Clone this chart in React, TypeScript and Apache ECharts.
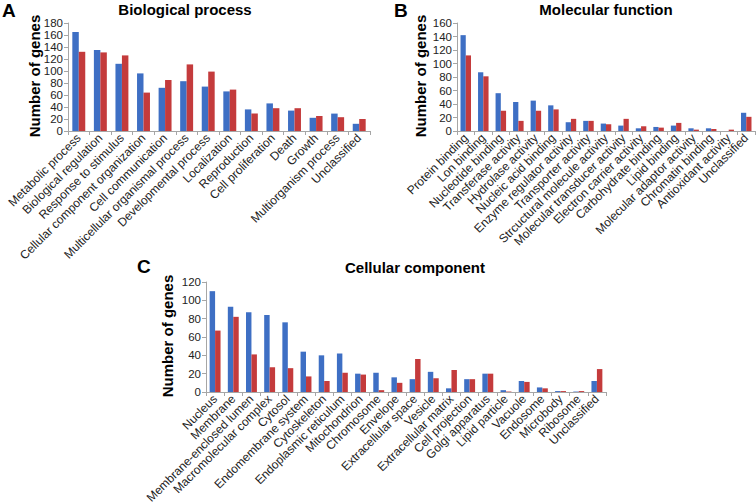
import React, { useEffect, useRef } from "react";
import * as echarts from "echarts";

const bpCategories = ["Metabolic process", "Biological regulation", "Response to stimulus", "Cellular component organization", "Cell communication", "Multicellular organismal process", "Developmental process", "Localization", "Reproduction", "Cell proliferation", "Death", "Growth", "Multiorganism process", "Unclassified"];
const bpBlue = [165, 135, 112, 96, 72, 83, 74, 66, 36, 46, 34, 22, 29, 12];
const bpRed = [132, 131, 126, 64, 85, 111, 99, 69, 29, 38, 38, 25, 23, 20];

const mfCategories = ["Protein binding", "Lon binding", "Nucleotide binding", "Transferase activity", "Hydrolase activity", "Nucleic acid binding", "Enzyme regulator activity", "Transporter activity", "Strcuctural molecule activity", "Molecular transducer activity", "Electron carrier activity", "Carbohydrate binding", "Lipid binding", "Molecular adaptor activity", "Chromatin binding", "Antioxidant activity", "Unclassified"];
const mfBlue = [142, 87, 56, 43, 45, 38, 13, 15, 11, 8, 4, 6, 8, 4, 4, 0, 27];
const mfRed = [112, 81, 30, 15, 30, 32, 18, 15, 10, 18, 7, 5, 12, 2, 3, 2, 21];

const ccCategories = ["Nucleus", "Membrane", "Membrane-enclosed lumen", "Macromolecular complex", "Cytosol", "Endomembrane system", "Cytoskeleton", "Endoplasmic reticulum", "Mitochondrion", "Chromosome", "Envelope", "Extracellular space", "Vesicle", "Extracellular matrix", "Cell projection", "Golgi apparatus", "Lipid particle", "Vacuole", "Endosome", "Microbody", "Ribosome", "Unclassified"];
const ccBlue = [110, 93, 87, 84, 76, 44, 40, 42, 20, 21, 16, 14, 22, 4, 14, 20, 2, 12, 5, 1, 0.5, 12];
const ccRed = [67, 82, 41, 27, 26, 17, 12, 21, 19, 2, 10, 36, 15, 24, 14, 20, 0.5, 11, 4, 1, 1, 25];

const panelTitles = ["Biological process", "Molecular function", "Cellular component"];
const panelLetters = ["A", "B", "C"];
const yAxisName = "Number of genes";
const yMax = [180, 160, 120];
const yInterval = 20;

const BLUE = "#3E6FC4";
const RED = "#C43B3C";
const FONT = "Liberation Sans, Arial, sans-serif";
const AXIS_COLOR = "#A6A6A6";

export default function App() {
  const ref = useRef<HTMLDivElement>(null);
  useEffect(() => {
    if (!ref.current) return;
    const chart = echarts.init(ref.current, null, { renderer: "svg" });
    const grids = [
      { left: 68, top: 23, width: 302, height: 108 },
      { left: 457, top: 23, width: 298, height: 108 },
      { left: 206, top: 282, width: 400, height: 110 },
    ].map((g) => ({ ...g, containLabel: false, outerBoundsMode: "none" }));
    const cats = [bpCategories, mfCategories, ccCategories];
    const blues = [bpBlue, mfBlue, ccBlue];
    const reds = [bpRed, mfRed, ccRed];
    const namePos = [
      [34.5, 76],
      [420.5, 76],
      [167, 336],
    ];

    const xAxis = cats.map((c, i) => ({
      type: "category",
      gridIndex: i,
      data: c,
      boundaryGap: true,
      axisLine: { lineStyle: { color: AXIS_COLOR, width: 1 } },
      axisTick: { show: true, length: 4, interval: 0, lineStyle: { color: AXIS_COLOR } },
      axisLabel: {
        interval: 0,
        rotate: 45,
        fontSize: 12,
        fontFamily: FONT,
        color: "#222",
        margin: 5,
        hideOverlap: false,
      },
    }));
    const yAxis = yMax.map((m, i) => ({
      type: "value",
      gridIndex: i,
      min: 0,
      max: m,
      interval: yInterval,
      axisLine: { show: true, lineStyle: { color: AXIS_COLOR, width: 1 } },
      axisTick: { show: true, length: 4, lineStyle: { color: AXIS_COLOR } },
      splitLine: { show: false },
      axisLabel: {
        fontSize: 11.5,
        fontFamily: FONT,
        color: "#222",
        margin: 5,
        showMinLabel: true,
        showMaxLabel: true,
        hideOverlap: false,
      },
    }));
    const series: any[] = [];
    for (let i = 0; i < 3; i++) {
      series.push({
        type: "bar",
        xAxisIndex: i,
        yAxisIndex: i,
        data: blues[i],
        itemStyle: { color: BLUE },
        barGap: "0%",
        barCategoryGap: "40%",
      });
      series.push({
        type: "bar",
        xAxisIndex: i,
        yAxisIndex: i,
        data: reds[i],
        itemStyle: { color: RED },
        barGap: "0%",
        barCategoryGap: "40%",
      });
    }
    const titleStyle = { fontSize: 15, fontWeight: "bold", fontFamily: FONT, color: "#000" };
    const letterStyle = { fontSize: 19, fontWeight: "bold", fontFamily: FONT, color: "#000" };
    const title = [
      { text: panelTitles[0], left: 185, top: 2, textAlign: "center", textStyle: titleStyle },
      { text: panelTitles[1], left: 606, top: 2, textAlign: "center", textStyle: titleStyle },
      { text: panelTitles[2], left: 415, top: 260, textAlign: "center", textStyle: titleStyle },
      { text: panelLetters[0], left: 2, top: 1, textStyle: letterStyle },
      { text: panelLetters[1], left: 394, top: 1, textStyle: letterStyle },
      { text: panelLetters[2], left: 137, top: 257, textStyle: letterStyle },
    ].map((t) => ({ ...t, padding: 0 }));
    const graphic = namePos.map(([x, y]) => ({
      type: "text",
      x,
      y,
      rotation: Math.PI / 2,
      style: {
        text: yAxisName,
        font: `bold 15px ${FONT}`,
        fill: "#000",
        align: "center",
        verticalAlign: "middle",
      },
    }));
    chart.setOption({
      animation: false,
      backgroundColor: "#fff",
      title,
      grid: grids,
      xAxis,
      yAxis,
      series,
      graphic,
    } as any);
    return () => chart.dispose();
  }, []);
  return <div ref={ref} style={{ position: "fixed", left: 0, top: 0, width: 756, height: 503 }} />;
}
